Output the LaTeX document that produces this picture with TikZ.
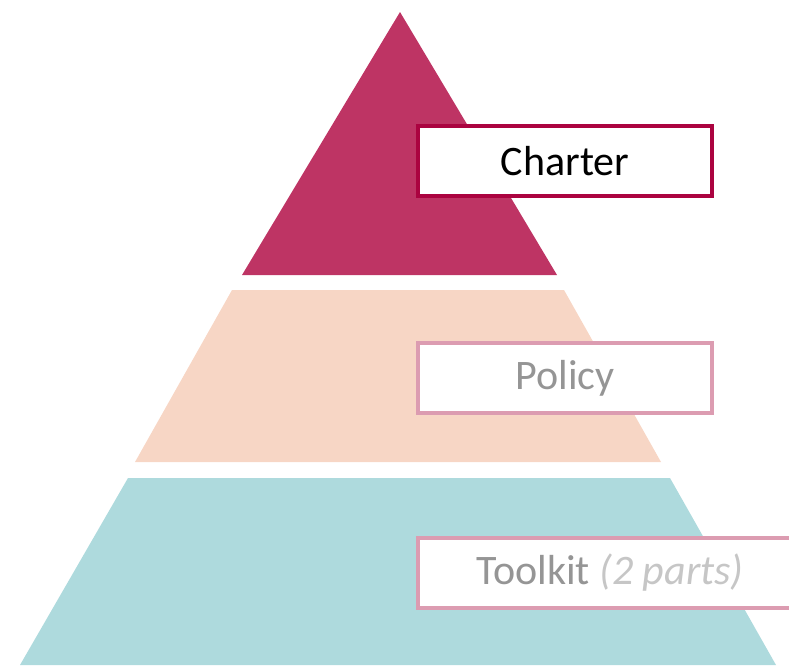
\documentclass[tikz,border=0pt]{standalone}
\usepackage{fontspec}
\setmainfont{Carlito}
\usepackage{tikz}
\usetikzlibrary{positioning}

\definecolor{crimson}{HTML}{BE3464}
\definecolor{crimsonline}{HTML}{AB0340}
\definecolor{peach}{HTML}{F7D6C5}
\definecolor{teal}{HTML}{AEDADD}
\definecolor{pinkline}{HTML}{DC9CB1}
\definecolor{greytext}{HTML}{959595}
\definecolor{lightgreytext}{HTML}{C6C6C6}

\begin{document}
\begin{tikzpicture}[x=1pt, y=1pt,
    tierbox/.style = {draw, line width=4pt, fill=white, anchor=north west,
      minimum height=70pt, inner sep=0pt, font=\fontsize{42}{50}\selectfont}]
 \useasboundingbox (0,0) rectangle (789,-665);
 \clip (0,0) rectangle (789,-665);
 % pyramid layers
 \fill[crimson] (400,-12) -- (557,-275) -- (242,-275) -- cycle;
 \fill[peach] (232,-290) -- (564,-290) -- (661,-462) -- (135,-462) -- cycle;
 \fill[teal] (128,-478) -- (670,-478) -- (776,-665) -- (20,-665) -- cycle;
 % labels
 \node[tierbox, draw=crimsonline, minimum width=294pt] (charter) at (416,-124) {Charter};
 \node[tierbox, draw=pinkline, text=greytext, minimum width=294pt] (policy) at (416,-341) {Policy};
 \node[tierbox, draw=pinkline, text=greytext, minimum width=384pt] (toolkit) at (416,-536)
    {Toolkit \textcolor{lightgreytext}{\itshape (2 parts)}};
\end{tikzpicture}
\end{document}
